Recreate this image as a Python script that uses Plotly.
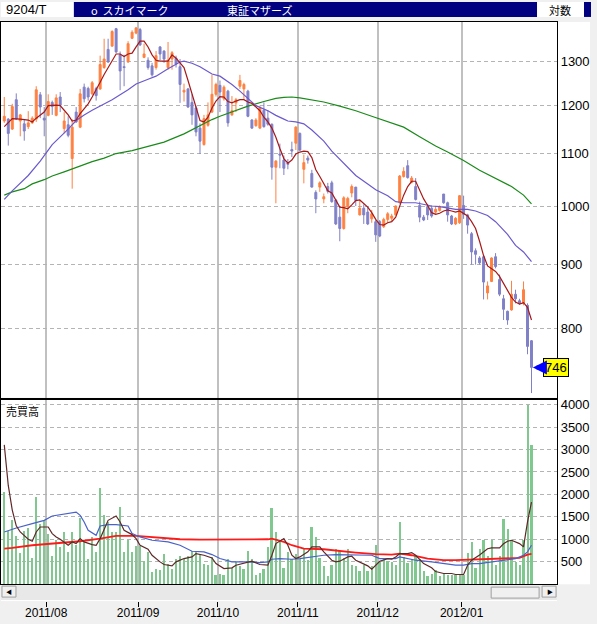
import math

import plotly.graph_objects as go

W, H = 597, 624

# ---------------------------------------------------------------- data
code = "9204/T"
name = "o  スカイマーク"
market = "東証マザーズ"
scale_label = "対数"
volume_label = "売買高"

month_labels = ["2011/08", "2011/09", "2011/10", "2011/11", "2011/12", "2012/01"]
july_days = 11                       # trading days shown before 2011/08
month_days = [23, 20, 20, 20, 21, 18]

opens = [
    1167, 1171, 1150, 1213, 1167, 1161, 1155, 1163, 1171, 1224,
    1173, 1179, 1207, 1179, 1219, 1151, 1159, 1090, 1186, 1154,
    1241, 1238, 1226, 1238, 1237, 1286, 1329, 1337, 1380, 1316,
    1288, 1299, 1356, 1369, 1378, 1310, 1303, 1290, 1286, 1335,
    1325, 1286, 1306, 1308, 1288, 1230, 1237, 1207, 1195, 1152,
    1118, 1158, 1186, 1225, 1245, 1215, 1232, 1180, 1206, 1243,
    1237, 1232, 1169, 1157, 1152, 1190, 1173, 1160, 1073, 1099,
    1087, 1081, 1108, 1121, 1141, 1069, 1091, 1061, 1025, 1035,
    1013, 1036, 1043, 1011, 980, 960, 999, 1024, 1035, 984,
    996, 989, 977, 972, 972, 963, 976, 978, 984, 1006,
    1055, 1076, 1044, 1036, 1001, 980, 999, 996, 989, 992,
    1022, 1006, 982, 968, 970, 1001, 984, 951, 922, 910,
    912, 854, 872, 912, 875, 845, 826, 828, 852, 842,
    838, 835, 783,
]
highs = [
    1219, 1173, 1204, 1227, 1182, 1169, 1188, 1177, 1243, 1230,
    1197, 1225, 1211, 1225, 1230, 1186, 1177, 1171, 1197, 1237,
    1249, 1242, 1255, 1242, 1314, 1355, 1355, 1376, 1382, 1324,
    1316, 1349, 1376, 1384, 1382, 1343, 1310, 1297, 1325, 1337,
    1327, 1347, 1325, 1314, 1306, 1249, 1239, 1225, 1200, 1162,
    1180, 1207, 1269, 1251, 1256, 1245, 1235, 1221, 1217, 1269,
    1251, 1235, 1171, 1173, 1200, 1207, 1190, 1162, 1087, 1120,
    1096, 1089, 1124, 1156, 1143, 1098, 1096, 1068, 1029, 1046,
    1023, 1043, 1047, 1013, 1000, 1018, 1017, 1040, 1035, 1010,
    1003, 999, 993, 975, 975, 979, 989, 986, 1001, 1058,
    1073, 1087, 1056, 1052, 1008, 984, 1004, 1001, 999, 1001,
    1022, 1008, 984, 980, 1020, 1019, 986, 954, 926, 913,
    914, 872, 911, 918, 883, 851, 827, 873, 859, 845,
    872, 838, 784,
]
lows = [
    1163, 1116, 1148, 1169, 1135, 1126, 1150, 1161, 1165, 1173,
    1135, 1177, 1180, 1177, 1186, 1141, 1133, 1032, 1163, 1152,
    1207, 1211, 1224, 1211, 1235, 1283, 1297, 1335, 1320, 1234,
    1243, 1297, 1354, 1366, 1337, 1308, 1281, 1265, 1281, 1303,
    1297, 1281, 1281, 1286, 1206, 1209, 1195, 1159, 1135, 1099,
    1116, 1155, 1184, 1220, 1186, 1211, 1155, 1178, 1186, 1237,
    1213, 1175, 1150, 1155, 1150, 1153, 1157, 1049, 1005, 1071,
    1058, 1069, 1093, 1107, 1105, 1042, 1080, 1034, 987, 1026,
    1005, 1023, 1006, 966, 938, 958, 987, 1016, 1000, 983,
    968, 966, 970, 937, 945, 961, 970, 973, 983, 1004,
    1053, 1051, 1042, 1010, 971, 973, 975, 979, 986, 990,
    1004, 972, 966, 966, 968, 977, 951, 899, 899, 899,
    844, 844, 871, 893, 849, 813, 806, 827, 838, 836,
    835, 764, 712,
]
closes = [
    1177, 1141, 1198, 1171, 1180, 1146, 1163, 1173, 1235, 1197,
    1169, 1209, 1198, 1217, 1201, 1167, 1137, 1154, 1165, 1226,
    1215, 1219, 1251, 1222, 1293, 1306, 1299, 1373, 1323, 1278,
    1286, 1343, 1371, 1382, 1340, 1318, 1286, 1269, 1314, 1318,
    1306, 1303, 1321, 1294, 1247, 1234, 1197, 1180, 1144, 1125,
    1172, 1180, 1225, 1247, 1230, 1241, 1163, 1189, 1213, 1256,
    1247, 1177, 1152, 1169, 1195, 1155, 1160, 1073, 1085, 1097,
    1071, 1079, 1105, 1154, 1107, 1082, 1087, 1035, 1013, 1043,
    1017, 1027, 1008, 968, 960, 1015, 1014, 1036, 1010, 996,
    984, 968, 986, 949, 947, 976, 986, 982, 1000, 1056,
    1065, 1053, 1052, 1012, 980, 975, 984, 982, 994, 999,
    1006, 984, 968, 978, 1019, 985, 966, 920, 916, 902,
    871, 865, 910, 896, 852, 829, 813, 852, 845, 838,
    859, 775, 746,
]
volume = [
    2052, 1200, 1444, 1074, 696, 1200, 1252, 585, 1941, 1348,
    1444, 1126, 644, 993, 830, 1163, 733, 1163, 881, 1474,
    941, 556, 1052, 719, 2141, 1556, 1385, 1163, 1163, 1733,
    733, 1000, 733, 867, 867, 511, 719, 274, 348, 311,
    681, 459, 348, 570, 630, 570, 630, 756, 756, 659,
    459, 437, 607, 215, 237, 200, 570, 363, 496, 407,
    348, 756, 556, 200, 259, 348, 830, 1696, 1178, 956,
    363, 733, 570, 681, 570, 800, 540, 1290, 1050, 580,
    420, 180, 440, 780, 740, 580, 800, 430, 410, 300,
    430, 300, 400, 870, 500, 560, 520, 500, 440, 1400,
    600, 470, 560, 640, 560, 300, 180, 230, 330, 180,
    260, 200, 200, 200, 200, 200, 700, 950, 360, 800,
    1000, 640, 1000, 440, 640, 1450, 1230, 1000, 510, 440,
    1000, 4000, 3100,
]

# price moving averages at the listed day indices
ma_short_day = [0, 2, 4, 6, 7, 8, 10, 11, 13, 14, 15, 16, 17, 18, 19, 21, 22, 23, 24, 25,
                26, 27, 28, 29, 30, 31, 32, 33, 34, 35, 36, 37, 38, 39, 40, 41, 42, 43, 44, 45,
                46, 47, 48, 49, 50, 51, 52, 53, 54, 55, 56, 57, 58, 59, 60, 61, 62, 63, 64, 65,
                66, 67, 68, 69, 70, 71, 72, 73, 74, 75, 76, 77, 78, 79, 80, 81, 82, 83, 84, 85,
                86, 87, 88, 89, 90, 91, 92, 93, 94, 95, 96, 97, 98, 99, 100, 101, 102, 103, 104,
                105, 106, 107, 108, 109, 110, 111, 112, 113, 114, 115, 116, 117, 118, 119, 120,
                121, 122, 123, 124, 125, 126, 127, 128, 129, 130, 131, 132]
ma_short = [1155, 1172, 1171, 1169, 1165, 1173, 1186, 1200, 1201, 1200, 1190, 1180, 1167, 1169, 1183, 1204, 1219, 1234, 1252, 1270,
            1286, 1299, 1318, 1318, 1312, 1318, 1320, 1335, 1349, 1349, 1335, 1316, 1303, 1301, 1301, 1301, 1316, 1308, 1297, 1286,
            1256, 1225, 1195, 1168, 1165, 1175, 1195, 1210, 1220, 1219, 1209, 1206, 1210, 1213, 1213, 1208, 1205, 1198, 1189, 1175,
            1165, 1152, 1133, 1110, 1090, 1081, 1087, 1099, 1103, 1105, 1104, 1092, 1068, 1055, 1042, 1028, 1024, 1010, 998, 997,
            995, 1002, 1010, 1011, 1005, 998, 988, 976, 967, 966, 970, 972, 980, 1000, 1020, 1036, 1046, 1046, 1030,
            1013, 1001, 988, 985, 987, 991, 993, 991, 989, 991, 987, 982, 972, 960, 938, 914,
            897, 893, 888, 880, 868, 858, 847, 840, 837, 839, 832, 813]

ma_mid_day = [0, 2, 6, 9, 12, 14, 16, 18, 20, 22, 24, 27, 31, 33, 36, 38, 41, 42, 44, 45, 47, 49,
              52, 54, 57, 59, 62, 63, 66, 68, 70, 71, 73, 75, 77, 78, 80, 82, 85, 88, 91, 93, 96,
              98, 100, 103, 107, 109, 113, 116, 118, 121, 123, 126, 128, 130, 132]
ma_mid = [1012, 1028, 1057, 1085, 1118, 1133, 1150, 1168, 1180, 1190, 1199, 1213, 1235, 1248, 1259, 1266, 1283, 1288, 1299, 1301, 1296, 1288,
          1271, 1266, 1247, 1232, 1207, 1200, 1189, 1179, 1171, 1167, 1165, 1161, 1148, 1140, 1125, 1105, 1081, 1057, 1041, 1030, 1019,
          1008, 1006, 1006, 1000, 999, 994, 994, 991, 983, 972, 950, 931, 920, 904]

ma_long_day = [0, 2, 5, 7, 10, 12, 15, 17, 20, 22, 25, 28, 32, 36, 40, 45, 49, 52, 54, 57, 61, 65, 68, 70,
               72, 74, 77, 80, 84, 88, 92, 96, 100, 104, 108, 111, 115, 119, 123, 127, 130, 132]
ma_long = [1020, 1026, 1032, 1041, 1049, 1056, 1064, 1070, 1078, 1084, 1091, 1100, 1106, 1114, 1123, 1140, 1158, 1170, 1177, 1186, 1199, 1209, 1216, 1218,
           1219, 1217, 1212, 1208, 1199, 1189, 1177, 1166, 1154, 1134, 1115, 1103, 1086, 1067, 1051, 1036, 1020, 1004]

# volume moving averages
vma_short_day = [0, 1, 2, 3, 4, 6, 7, 8, 9, 11, 12, 13, 14, 16, 17, 18, 19, 20, 22, 23, 24, 25, 26, 28, 29, 30,
                 32, 33, 34, 36, 37, 39, 40, 42, 43, 45, 47, 48, 50, 52, 53, 55, 57, 58, 61, 62, 64, 66, 67, 68,
                 70, 71, 72, 73, 74, 76, 77, 79, 80, 82, 83, 84, 86, 87, 88, 90, 91, 92, 93, 94, 96, 97, 98, 99,
                 101, 102, 103, 105, 107, 108, 110, 112, 113, 115, 116, 117, 119, 121, 122, 124, 125, 126, 127,
                 129, 130, 131, 132]
vma_short = [3104, 2200, 1650, 1300, 1163, 1000, 956, 1163, 1274, 1274, 1126, 1052, 1000, 867, 941, 904, 1015, 941, 881, 867, 1015, 1200, 1422, 1519, 1385, 1200,
             1104, 1015, 867, 778, 644, 496, 437, 407, 496, 570, 607, 681, 644, 585, 459, 348, 363, 422, 496, 511, 437, 422, 644, 904,
             1015, 867, 644, 570, 607, 719, 830, 830, 719, 533, 496, 511, 607, 622, 533, 459, 407, 333, 422, 511, 570, 556, 607, 681,
             681, 704, 644, 459, 363, 280, 237, 237, 215, 215, 422, 533, 650, 790, 807, 807, 900, 956, 978,
             904, 830, 1390, 1830]

vma_mid_day = [0, 3, 7, 10, 12, 16, 18, 19, 20, 21, 23, 24, 26, 28, 31, 32, 34, 37, 41, 44, 47, 50, 52, 54, 57,
               61, 64, 66, 67, 69, 72, 74, 77, 80, 83, 88, 92, 94, 98, 99, 103, 107, 110, 113, 115, 117,
               119, 122, 125, 128, 130, 131, 132]
vma_mid = [1163, 1252, 1348, 1422, 1519, 1570, 1607, 1533, 1385, 1200, 1089, 1296, 1326, 1326, 1296, 1126, 1052, 978, 941, 867, 733, 719, 659, 570, 496,
           496, 481, 496, 555, 570, 555, 570, 607, 644, 659, 659, 644, 570, 570, 607, 533, 496, 459, 422, 422, 459,
           459, 496, 533, 570, 644, 719, 867]

vma_long_day = [0, 2, 7, 12, 16, 19, 24, 28, 33, 39, 44, 49, 56, 66, 67, 70, 72, 75, 80, 84, 88, 93, 97, 99,
                102, 106, 110, 113, 117, 121, 125, 129, 131, 132]
vma_long = [793, 807, 867, 904, 941, 956, 1015, 1074, 1074, 1030, 1000, 993, 993, 1000, 1015, 941, 867, 793, 778, 733, 704, 667, 659, 681,
            644, 570, 533, 533, 548, 555, 570, 585, 659, 674]

# ---------------------------------------------------------------- styles
UP = "#ff8040"
DOWN = "#8080c8"
NAVY = "#000080"
GRID_V = "#c0c0c0"
GRID_H = "#b4b4b4"
NUM_FONT = "Liberation Sans, Arial, sans-serif"
JP_FONT = "Noto Sans CJK JP, sans-serif"


def fx(px):
    return px / W


def fy(px):
    return 1 - px / H


days = list(range(len(closes)))
month_start = []
pos = july_days
for n in month_days:
    month_start.append(pos - 0.5)
    pos += n
x_range = [-0.82, 138.4]

fig = go.Figure()

fig.add_trace(go.Candlestick(
    x=days, open=opens, high=highs, low=lows, close=closes,
    increasing=dict(line=dict(color=UP, width=1), fillcolor=UP),
    decreasing=dict(line=dict(color=DOWN, width=1), fillcolor=DOWN),
    whiskerwidth=0, showlegend=False, hoverinfo="skip",
    xaxis="x", yaxis="y",
))
for xs, ys, colour in [(ma_long_day, ma_long, "#1a8a1a"),
                       (ma_mid_day, ma_mid, "#6a5acd"),
                       (ma_short_day, ma_short, "#a81818")]:
    fig.add_trace(go.Scatter(x=xs, y=ys, mode="lines", line=dict(color=colour, width=1.2),
                             showlegend=False, hoverinfo="skip", xaxis="x", yaxis="y"))

fig.add_trace(go.Bar(x=days, y=volume, width=0.5, marker=dict(color="#80c890", line=dict(width=0)),
                     showlegend=False, hoverinfo="skip", xaxis="x2", yaxis="y2"))
for xs, ys, colour, w in [(vma_long_day, vma_long, "#ff1a1a", 1.8),
                          (vma_mid_day, vma_mid, "#4a62c8", 1.2),
                          (vma_short_day, vma_short, "#602828", 1.2)]:
    fig.add_trace(go.Scatter(x=xs, y=ys, mode="lines", line=dict(color=colour, width=w),
                             showlegend=False, hoverinfo="skip", xaxis="x2", yaxis="y2"))

# empty carrier for the date axis under the scroll bar
fig.add_trace(go.Scatter(x=[None], y=[None], xaxis="x3", yaxis="y3", showlegend=False, hoverinfo="skip"))

frame = dict(showline=True, mirror=True, linecolor="#000000", linewidth=1, zeroline=False)
xgrid = dict(range=x_range, tickvals=month_start, showticklabels=False, ticks="",
             showgrid=True, gridcolor=GRID_V, gridwidth=2, **frame)
ygrid = dict(side="right", ticks="", showgrid=True, gridcolor=GRID_H, gridwidth=1, griddash="4px,3px",
             tickfont=dict(family=NUM_FONT, size=13, color="#000000"), **frame)

fig.update_layout(
    width=W, height=H,
    margin=dict(l=0, r=0, t=0, b=0),
    paper_bgcolor="#f0f0f0", plot_bgcolor="#ffffff",
    boxgap=0.3, bargap=0,
    hovermode=False,
    xaxis=dict(domain=[0, fx(557)], anchor="y", rangeslider=dict(visible=False), **xgrid),
    yaxis=dict(domain=[fy(397), fy(20)], anchor="x", type="log",
               range=[math.log10(706), math.log10(1397)],
               tickvals=[800, 900, 1000, 1100, 1200, 1300], **ygrid),
    xaxis2=dict(domain=[0, fx(557)], anchor="y2", **xgrid),
    yaxis2=dict(domain=[fy(584), fy(399)], anchor="x2", range=[0, 4111],
                tickvals=[500, 1000, 1500, 2000, 2500, 3000, 3500, 4000], **ygrid),
    xaxis3=dict(domain=[0, fx(557)], anchor="y3", range=x_range, tickvals=month_start,
                ticktext=month_labels, ticks="outside", ticklen=5, tickcolor="#000000", tickwidth=1,
                ticklabelstandoff=-4,
                showline=False, showgrid=False, zeroline=False,
                tickfont=dict(family=NUM_FONT, size=12, color="#000000")),
    yaxis3=dict(domain=[fy(601), fy(600)], anchor="x3", visible=False),
)


def rect(x0, y0, x1, y1, fill, line=None, layer="below"):
    fig.add_shape(type="rect", xref="paper", yref="paper",
                  x0=fx(x0), x1=fx(x1), y0=fy(y1), y1=fy(y0),
                  fillcolor=fill, line=dict(color=line or fill, width=1 if line else 0), layer=layer)


# header bar
rect(0, 0, 73, 15, "#ffffff")
rect(73, 0, 537, 15, NAVY)
rect(537, 0, 584, 15, "#ffffff")
rect(584, 0, 591, 15, NAVY)
# right label column
rect(557, 20, 590, 584, "#ffffff")
# scroll bar
rect(0, 585, 557, 600, "#e8e8e8")
rect(1, 586, 15, 597, "#f0f0f0", "#a0a0a0")
rect(491, 587, 539, 598, "#f0f0f0", "#a0a0a0")
rect(542, 586, 556, 597, "#f0f0f0", "#a0a0a0")


def label(x, y, text, colour="#000000", size=12, family=JP_FONT, anchor="left"):
    fig.add_annotation(xref="paper", yref="paper", x=fx(x), y=fy(y), text=text, showarrow=False,
                       xanchor=anchor, yanchor="middle", font=dict(family=family, size=size, color=colour))


label(3, 8, code, family=NUM_FONT, size=13)
label(88, 8, name, colour="#ffffff", size=11)
label(224, 8, market, colour="#ffffff", size=11)
label(547, 8, scale_label, size=11)
label(3, 410, volume_label, size=11)
label(8, 591.5, "◀", size=6, anchor="center")
label(550, 591.5, "▶", size=6, anchor="center")

# last price marker
fig.add_annotation(x=days[-1] + 0.35, y=math.log10(closes[-1]), xref="x", yref="y",
                   text=str(closes[-1]), showarrow=True, ax=23, ay=0,
                   arrowcolor="#0000ff", arrowwidth=4, arrowhead=2, arrowsize=0.7, standoff=0,
                   bgcolor="#ffff00", bordercolor="#000000", borderwidth=1, borderpad=1,
                   font=dict(family=NUM_FONT, size=13, color="#000000"))

# the page body has a default 8px margin; drop it so the figure fills the window
fig.write_html("out.html", config={"displayModeBar": False},
               post_script="document.body.style.margin = '0';")
